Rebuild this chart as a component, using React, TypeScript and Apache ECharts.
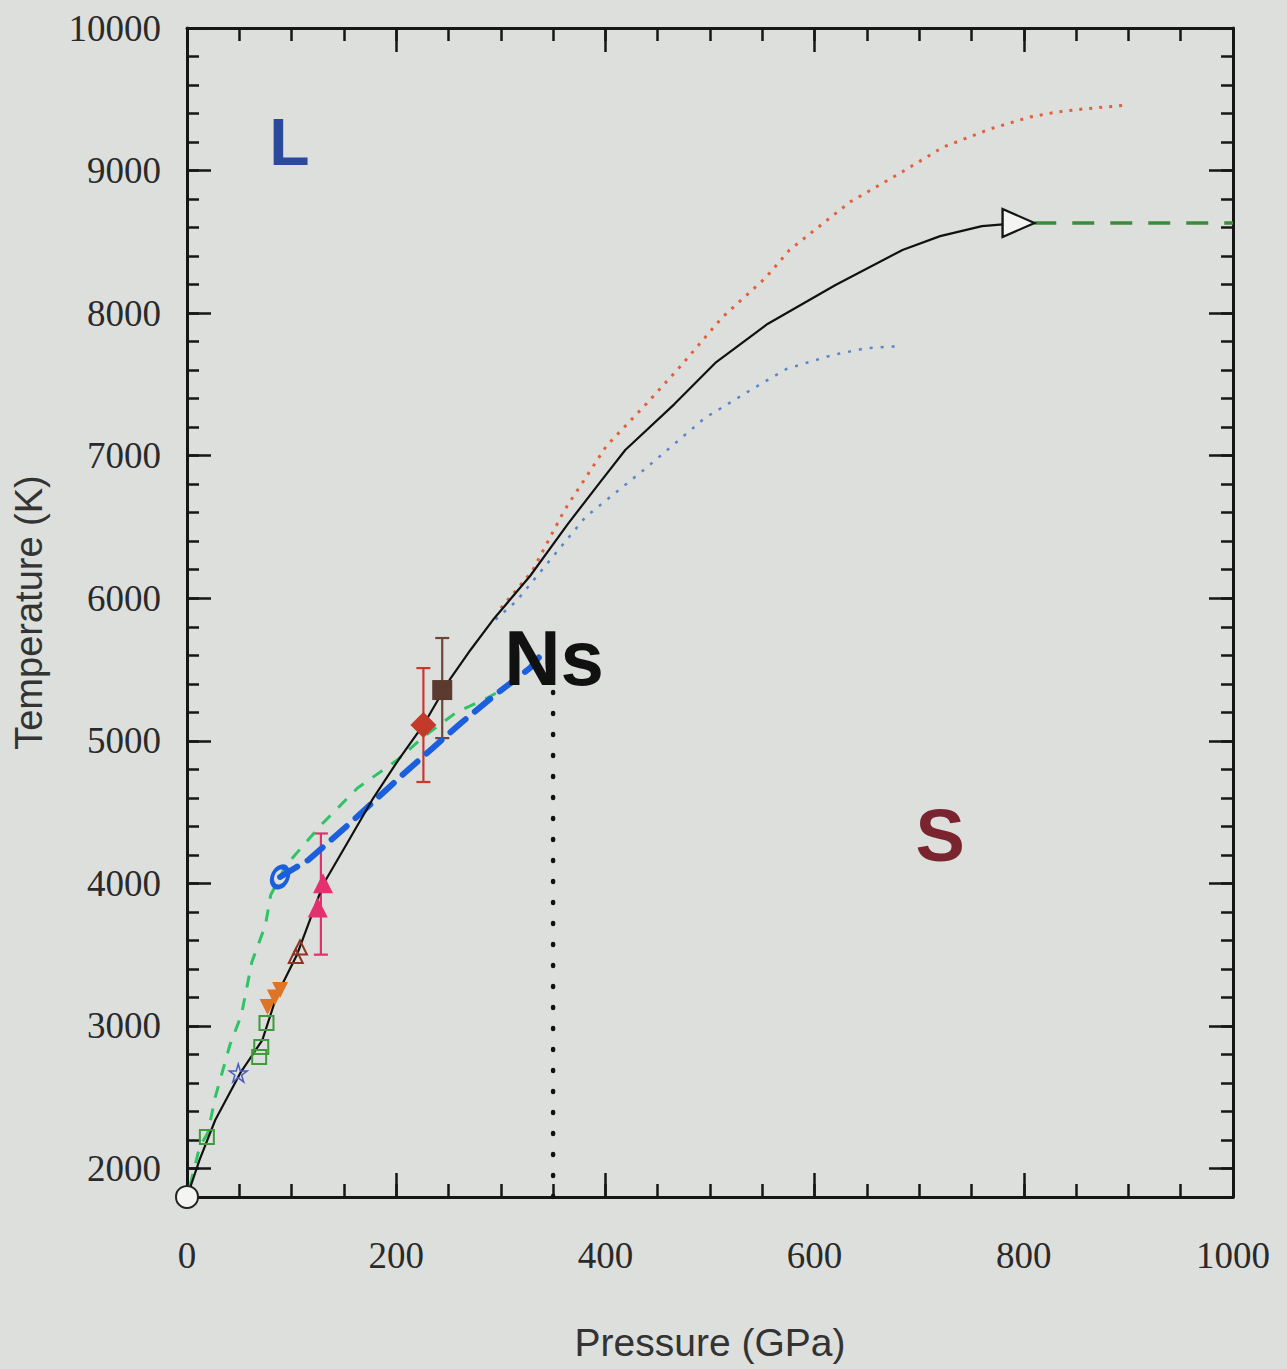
import React, { useEffect, useRef } from "react";
import * as echarts from "echarts";

// ---- axis ticks ----
const pressureMajor = [0, 200, 400, 600, 800, 1000];
const pressureMinor = [0, 50, 100, 150, 200, 250, 300, 350, 400, 450, 500, 550, 600, 650, 700, 750, 800, 850, 900, 950, 1000];
const temperatureMajor = [2000, 3000, 4000, 5000, 6000, 7000, 8000, 9000, 10000];
const temperatureMinor: number[] = [];
for (let t = 1800; t <= 10000; t += 200) temperatureMinor.push(t);

// ---- curves: [pressure GPa, temperature K] ----
const meltingCurve = [
  [0, 1800], [12, 2060], [27, 2340], [51, 2670], [72, 2900], [86, 3217], [105, 3497],
  [130, 3990], [156, 4318], [177, 4585], [202, 4865], [226, 5111], [251, 5427],
  [271, 5637], [294, 5862], [328, 6156], [364, 6520], [395, 6815], [419, 7040],
  [466, 7362], [506, 7657], [555, 7924], [620, 8197], [684, 8443], [720, 8540],
  [760, 8610], [795, 8632],
];
const upperBound = [
  [300, 5930], [330, 6190], [361, 6619], [401, 7068], [439, 7362], [472, 7629],
  [512, 7973], [553, 8246], [576, 8443], [634, 8780], [682, 8983], [723, 9165],
  [768, 9292], [806, 9376], [832, 9411], [857, 9432], [900, 9460],
];
const lowerBound = [
  [295, 5850], [315, 5981], [381, 6570], [439, 6914], [495, 7264], [539, 7461],
  [573, 7608], [617, 7706], [650, 7755], [684, 7770],
];
const greenDashed = [
  [3, 1880], [12, 2150], [20, 2250], [27, 2500], [41, 2866], [52, 3077], [62, 3448],
  [75, 3708], [80, 3918], [95, 4130], [130, 4423], [163, 4669], [201, 4865],
  [226, 5027], [258, 5202], [287, 5300], [318, 5427],
];
const blueDashed = [
  [89, 4045], [116, 4164], [156, 4423], [208, 4774], [235, 4950], [262, 5125],
  [292, 5307], [328, 5511], [340, 5616],
];
const extrapolation = [[810, 8632], [1000, 8632]];
const boundaryLine = [[350, 1800], [350, 5380]];

// ---- measured points ----
const originPoint = [[0, 1800]];
const greenSquares = [[19, 2221], [69, 2782], [71, 2852], [76, 3020]];
const blueStars = [[49, 2670]];
const orangeTriangles = [[77, 3133], [84, 3200], [89, 3252]];
const brownTriangles = [[104, 3490], [108, 3550]];
const pinkTriangles = [[125, 3830], [130, 4000]];
const redDiamonds = [[226, 5110]];
const brownSquares = [[244, 5356]];
const blueRing = [[89, 4045]];
const endArrow = [[795, 8632]];

// error bars: [pressure, low, high]
const pinkErrors = [[128, 3500, 4350]];
const redErrors = [[226, 4711, 5510]];
const brownErrors = [[244, 5019, 5721]];

// ---- phase labels ----
const phaseNames = ["L", "Ns", "S"];
const phasePositions = [[98, 9200], [351, 5581], [720, 4339]];
const phaseColors = ["#2b4a9c", "#111111", "#7a2430"];
const phaseSizes = [66, 78, 74];

const STAR = "path://M50,0 L61,35 L98,35 L68,57 L79,91 L50,70 L21,91 L32,57 L2,35 L39,35 Z";

function errorSeries(data: number[][], color: string) {
  return {
    type: "custom",
    xAxisIndex: 0,
    yAxisIndex: 0,
    z: 3,
    clip: false,
    data,
    renderItem: (_params: any, api: any) => {
      const x = api.value(0);
      const top = api.coord([x, api.value(2)]);
      const bot = api.coord([x, api.value(1)]);
      const w = 7;
      const style = { stroke: color, lineWidth: 2.2 };
      return {
        type: "group",
        children: [
          { type: "line", shape: { x1: top[0], y1: top[1], x2: bot[0], y2: bot[1] }, style },
          { type: "line", shape: { x1: top[0] - w, y1: top[1], x2: top[0] + w, y2: top[1] }, style },
          { type: "line", shape: { x1: bot[0] - w, y1: bot[1], x2: bot[0] + w, y2: bot[1] }, style },
        ],
      };
    },
  };
}

function lineSeries(data: number[][], lineStyle: any, z = 4) {
  return {
    type: "line",
    xAxisIndex: 0,
    yAxisIndex: 0,
    data,
    symbol: "none",
    z,
    lineStyle,
  };
}

function pointSeries(data: number[][], opts: any) {
  const { itemStyle, ...rest } = opts;
  return {
    type: "scatter",
    xAxisIndex: 0,
    yAxisIndex: 0,
    data,
    clip: false,
    z: 6,
    itemStyle: { opacity: 1, ...itemStyle },
    ...rest,
  };
}

const AXIS_COLOR = "#161616";
const LABEL_FONT = "'Liberation Serif', 'DejaVu Serif', serif";
const NAME_FONT = "'Liberation Sans', Arial, sans-serif";
const plain = (v: number) => String(v);

function xAxis(position: "bottom" | "top", values: number[], length: number, withLabels: boolean, withLine: boolean) {
  return {
    type: "value",
    position,
    min: 0,
    max: 1000,
    interval: 50,
    splitLine: { show: false },
    axisLine: { show: withLine, onZero: false, lineStyle: { color: AXIS_COLOR, width: 3 } },
    axisTick: { show: true, inside: true, length, customValues: values, lineStyle: { color: AXIS_COLOR, width: 2.5 } },
    axisLabel: withLabels
      ? {
          show: true,
          customValues: pressureMajor,
          formatter: plain,
          margin: 40,
          fontSize: 37,
          fontFamily: LABEL_FONT,
          color: "#2a2a2a",
        }
      : { show: false },
    ...(withLabels
      ? {
          name: "Pressure (GPa)",
          nameLocation: "middle",
          nameGap: 126,
          nameTextStyle: { fontSize: 39, fontFamily: NAME_FONT, color: "#333333" },
        }
      : {}),
  };
}

function yAxis(position: "left" | "right", values: number[], length: number, withLabels: boolean, withLine: boolean) {
  return {
    type: "value",
    position,
    min: 1800,
    max: 10000,
    interval: 200,
    splitLine: { show: false },
    axisLine: { show: withLine, onZero: false, lineStyle: { color: AXIS_COLOR, width: 3 } },
    axisTick: { show: true, inside: true, length, customValues: values, lineStyle: { color: AXIS_COLOR, width: 2.5 } },
    axisLabel: withLabels
      ? {
          show: true,
          customValues: temperatureMajor,
          formatter: plain,
          margin: 26,
          fontSize: 37,
          fontFamily: LABEL_FONT,
          color: "#2a2a2a",
        }
      : { show: false },
    ...(withLabels
      ? {
          name: "Temperature (K)",
          nameLocation: "middle",
          nameGap: 139,
          nameRotate: 90,
          nameTextStyle: { fontSize: 38, fontFamily: NAME_FONT, color: "#333333" },
        }
      : {}),
  };
}

export default function App() {
  const ref = useRef<HTMLDivElement>(null);

  useEffect(() => {
    if (!ref.current) return;
    const chart = echarts.init(ref.current, null, { renderer: "svg" });

    const option: any = {
      animation: false,
      backgroundColor: "#dddfdd",
      grid: { left: 187, right: 54, top: 28, bottom: 172, outerBoundsMode: "none", containLabel: false },
      xAxis: [
        xAxis("bottom", pressureMajor, 24, true, true),
        xAxis("bottom", pressureMinor, 13, false, false),
        xAxis("top", pressureMajor, 24, false, true),
        xAxis("top", pressureMinor, 13, false, false),
      ],
      yAxis: [
        yAxis("left", temperatureMajor, 24, true, true),
        yAxis("left", temperatureMinor, 12, false, false),
        yAxis("right", temperatureMajor, 24, false, true),
        yAxis("right", temperatureMinor, 12, false, false),
      ],
      series: [
        lineSeries(upperBound, { color: "#e0603a", width: 3, type: [3, 7] }),
        lineSeries(lowerBound, { color: "#5a86c8", width: 2.5, type: [3, 8] }),
        lineSeries(greenDashed, { color: "#2ec466", width: 3, type: [12, 11] }),
        lineSeries(blueDashed, { color: "#1c5fdc", width: 6, type: [20, 12], cap: "round" }),
        lineSeries(meltingCurve, { color: "#111111", width: 2.2 }, 5),
        lineSeries(extrapolation, { color: "#3d8b3d", width: 3.5, type: [22, 16] }),
        lineSeries(boundaryLine, { color: "#111111", width: 4.5, type: [1, 20], cap: "round" }),
        errorSeries(pinkErrors, "#e0306e"),
        errorSeries(redErrors, "#c8382e"),
        errorSeries(brownErrors, "#6b4538"),
        pointSeries(greenSquares, {
          symbol: "rect",
          symbolSize: 14,
          itemStyle: { color: "transparent", borderColor: "#3e9a3a", borderWidth: 2 },
        }),
        pointSeries(blueStars, {
          symbol: STAR,
          symbolSize: 18,
          itemStyle: { color: "transparent", borderColor: "#4a5cc0", borderWidth: 1.5 },
        }),
        pointSeries(orangeTriangles, {
          symbol: "triangle",
          symbolRotate: 180,
          symbolSize: 16,
          itemStyle: { color: "#e07426" },
        }),
        pointSeries(brownTriangles, {
          symbol: "triangle",
          symbolSize: 14,
          itemStyle: { color: "transparent", borderColor: "#8a3526", borderWidth: 2 },
        }),
        pointSeries(pinkTriangles, {
          symbol: "triangle",
          symbolSize: 20,
          itemStyle: { color: "#e3306f" },
        }),
        pointSeries(redDiamonds, {
          symbol: "diamond",
          symbolSize: 26,
          itemStyle: { color: "#c3392a" },
        }),
        pointSeries(brownSquares, {
          symbol: "rect",
          symbolSize: 20,
          itemStyle: { color: "#5b3a30" },
        }),
        pointSeries(blueRing, {
          symbol: "circle",
          symbolSize: [15, 21],
          symbolRotate: -25,
          itemStyle: { color: "transparent", borderColor: "#1c5fdc", borderWidth: 4.5 },
        }),
        pointSeries(originPoint, {
          symbol: "circle",
          symbolSize: 22,
          itemStyle: { color: "#f4f4f2", borderColor: "#222222", borderWidth: 2 },
        }),
        pointSeries(endArrow, {
          symbol: "triangle",
          symbolRotate: -90,
          symbolSize: [28, 32],
          itemStyle: { color: "#f4f4f2", borderColor: "#151515", borderWidth: 2.2 },
        }),
        {
          type: "scatter",
          xAxisIndex: 0,
          yAxisIndex: 0,
          symbolSize: 0,
          z: 8,
          silent: true,
          itemStyle: { opacity: 1 },
          data: phaseNames.map((name, i) => ({
            value: phasePositions[i],
            label: {
              show: true,
              position: "inside",
              formatter: name,
              color: phaseColors[i],
              fontSize: phaseSizes[i],
              fontWeight: "bold",
              fontFamily: NAME_FONT,
            },
          })),
        },
      ],
    };

    chart.setOption(option);
    return () => chart.dispose();
  }, []);

  return (
    <div
      ref={ref}
      style={{ position: "absolute", left: 0, top: 0, width: 1287, height: 1369 }}
    />
  );
}
